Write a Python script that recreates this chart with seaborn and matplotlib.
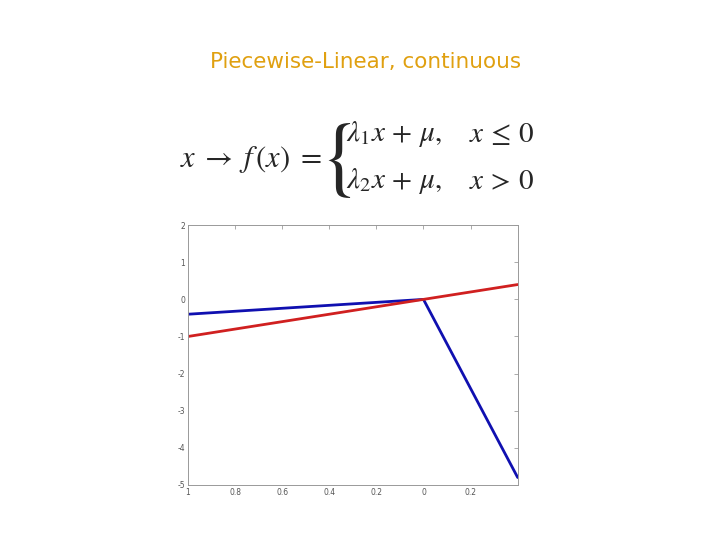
import matplotlib
matplotlib.use("Agg")
import matplotlib.pyplot as plt
import seaborn as sns
import pandas as pd

# Data
red_x = [-1.0, 0.4]
red_y = [-1.0, 0.4]
blue_x = [-1.0, 0.0, 0.4]
blue_y = [-0.4, 0.0, -4.8]

x_ticks = [-1.0, -0.8, -0.6, -0.4, -0.2, 0.0, 0.2]
x_tick_labels = ["1", "0.8", "0.6", "0.4", "0.2", "0", "0.2"]
y_ticks = [-5, -4, -3, -2, -1, 0, 1, 2]
y_tick_labels = ["-5", "-4", "-3", "-2", "-1", "0", "1", "2"]

sns.set_style("white")
plt.rcParams["mathtext.fontset"] = "stix"

fig = plt.figure(figsize=(7.2, 5.4), dpi=100)
ax = fig.add_axes([0.261, 0.102, 0.458, 0.481])

red = pd.DataFrame({"x": red_x, "y": red_y})
blue = pd.DataFrame({"x": blue_x, "y": blue_y})
sns.lineplot(data=blue, x="x", y="y", sort=False, color="#1010b0", linewidth=2, ax=ax)
sns.lineplot(data=red, x="x", y="y", sort=False, color="#d02020", linewidth=2, ax=ax)

ax.set_xlim(-1.0, 0.4)
ax.set_ylim(-5, 2)
ax.set_xticks(x_ticks)
ax.set_xticklabels(x_tick_labels)
ax.set_yticks(y_ticks)
ax.set_yticklabels(y_tick_labels)
ax.set_xlabel("")
ax.set_ylabel("")
ax.tick_params(direction="in", length=3, width=0.5, color="#888888",
               labelsize=5.5, labelcolor="#555555", pad=2,
               top=True, right=True)
for s in ax.spines.values():
    s.set_color("#999999")
    s.set_linewidth(0.7)

# title
fig.text(0.508, 0.885, "Piecewise-Linear, continuous", ha="center", va="center",
         fontsize=15.5, color="#e0a010", family="DejaVu Sans")

# equation
fs = 22
fig.text(0.25, 0.704, r"$x\; \rightarrow\; f\,(x)\; =$", ha="left", va="center", fontsize=fs)
fig.text(0.465, 0.706, r"$\{$", ha="center", va="center", fontsize=62)
fig.text(0.481, 0.752, r"$\lambda_1 x\, +\, \mu,$", ha="left", va="center", fontsize=21)
fig.text(0.481, 0.664, r"$\lambda_2 x\, +\, \mu,$", ha="left", va="center", fontsize=21)
fig.text(0.651, 0.752, r"$x\, \leq\, 0$", ha="left", va="center", fontsize=21)
fig.text(0.651, 0.664, r"$x\, >\, 0$", ha="left", va="center", fontsize=21)

fig.savefig("out.png", dpi=100)
